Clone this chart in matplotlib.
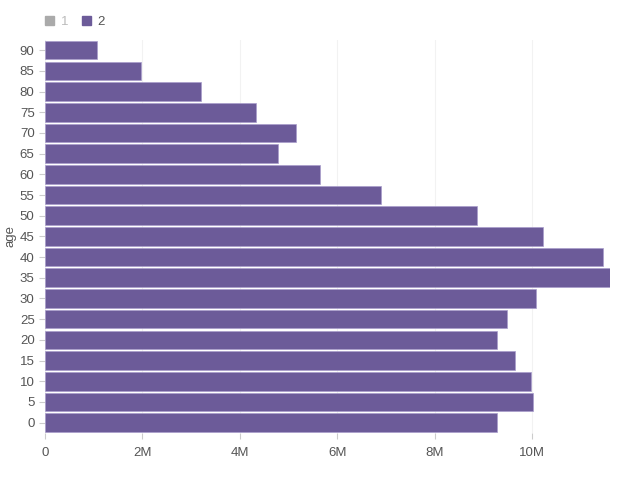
import matplotlib
matplotlib.use("Agg")
import matplotlib.pyplot as plt
from matplotlib.patches import Patch
from matplotlib.ticker import FuncFormatter

plt.rcParams['font.family'] = ['Liberation Sans', 'DejaVu Sans']

# 年齢階級と人口(系列2)
ages = [0, 5, 10, 15, 20, 25, 30, 35, 40, 45, 50, 55, 60, 65, 70, 75, 80, 85, 90]
series2 = [9.28e6, 10.02e6, 9.98e6, 9.65e6, 9.28e6, 9.49e6, 10.08e6, 11.60e6, 11.46e6,
           10.23e6, 8.87e6, 6.90e6, 5.65e6, 4.78e6, 5.15e6, 4.33e6, 3.20e6, 1.97e6, 1.07e6]
legend_labels = ['1', '2']

purple = '#6c5b99'
grey = '#aaaaaa'
txt = '#555555'

fig = plt.figure(figsize=(6.4, 4.8), dpi=100)
ax = fig.add_axes([0.0703, 0.098, 0.883, 0.819])

pos = list(range(len(ages)))
ax.barh(pos, series2, height=0.9, color=purple, edgecolor='#a99dcb', linewidth=0.5, zorder=2)

ax.set_yticks(pos)
ax.set_yticklabels([str(a) for a in ages])
ax.set_ylim(-0.5, len(ages) - 0.5)
ax.set_xlim(0, max(series2))
ax.set_xticks([0, 2e6, 4e6, 6e6, 8e6, 10e6])
ax.xaxis.set_major_formatter(FuncFormatter(lambda v, p: '0' if v == 0 else f'{v/1e6:g}M'))

ax.grid(axis='x', color='#f2f2f2', linewidth=0.8, zorder=0)
for s in ax.spines.values():
    s.set_visible(False)
ax.tick_params(axis='both', colors='#cccccc', labelcolor=txt, labelsize=9.5, length=4, width=0.8)
ax.tick_params(axis='x', pad=6)
ax.set_ylabel('age', color=txt, fontsize=9.5, labelpad=2)

handles = [Patch(color=grey), Patch(color=purple)]
leg = fig.legend(handles, legend_labels, loc='upper left', bbox_to_anchor=(0.052, 0.992), ncol=2,
                 frameon=False, fontsize=9.5, handlelength=0.7, handleheight=0.7,
                 handletextpad=0.5, columnspacing=1.0)
leg.get_texts()[0].set_color('#bbbbbb')
leg.get_texts()[1].set_color(txt)

fig.savefig('out.png', dpi=100)
